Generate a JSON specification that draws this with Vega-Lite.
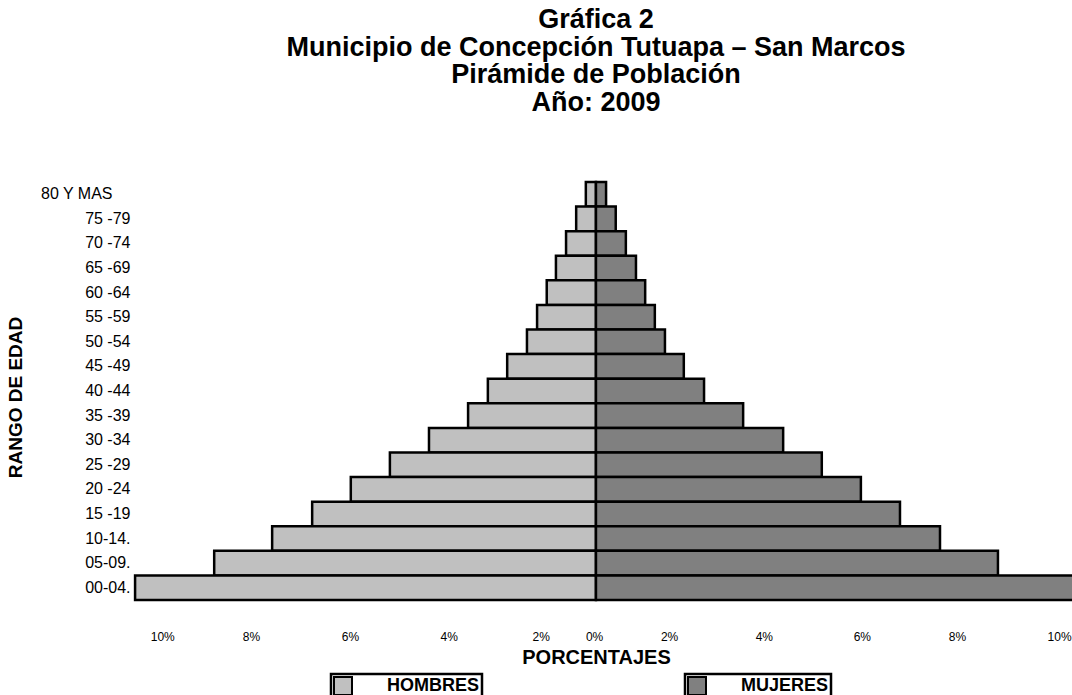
{
  "$schema": "https://vega.github.io/schema/vega-lite/v6.json",
  "width": 936,
  "height": 418,
  "autosize": {"type": "none"},
  "padding": {"left": 136, "top": 182, "right": 0, "bottom": 95},
  "background": "white",
  "title": {
    "text": ["Gráfica 2", "Municipio de Concepción Tutuapa – San Marcos", "Pirámide de Población", "Año: 2009"],
    "font": "Liberation Sans",
    "fontSize": 27,
    "fontWeight": "bold",
    "lineHeight": 27.5,
    "anchor": "middle",
    "frame": "group",
    "offset": 64,
    "dx": -8,
    "color": "black"
  },
  "data": {
    "values": [
      {"edad": "80 Y MAS", "sexo": "HOMBRES", "porcentaje": -0.22},
      {"edad": "75 -79", "sexo": "HOMBRES", "porcentaje": -0.43},
      {"edad": "70 -74", "sexo": "HOMBRES", "porcentaje": -0.65},
      {"edad": "65 -69", "sexo": "HOMBRES", "porcentaje": -0.87},
      {"edad": "60 -64", "sexo": "HOMBRES", "porcentaje": -1.07},
      {"edad": "55 -59", "sexo": "HOMBRES", "porcentaje": -1.28},
      {"edad": "50 -54", "sexo": "HOMBRES", "porcentaje": -1.5},
      {"edad": "45 -49", "sexo": "HOMBRES", "porcentaje": -1.93},
      {"edad": "40 -44", "sexo": "HOMBRES", "porcentaje": -2.35},
      {"edad": "35 -39", "sexo": "HOMBRES", "porcentaje": -2.78},
      {"edad": "30 -34", "sexo": "HOMBRES", "porcentaje": -3.63},
      {"edad": "25 -29", "sexo": "HOMBRES", "porcentaje": -4.48},
      {"edad": "20 -24", "sexo": "HOMBRES", "porcentaje": -5.33},
      {"edad": "15 -19", "sexo": "HOMBRES", "porcentaje": -6.17},
      {"edad": "10-14.", "sexo": "HOMBRES", "porcentaje": -7.04},
      {"edad": "05-09.", "sexo": "HOMBRES", "porcentaje": -8.3},
      {"edad": "00-04.", "sexo": "HOMBRES", "porcentaje": -10.02},
      {"edad": "80 Y MAS", "sexo": "MUJERES", "porcentaje": 0.22},
      {"edad": "75 -79", "sexo": "MUJERES", "porcentaje": 0.43},
      {"edad": "70 -74", "sexo": "MUJERES", "porcentaje": 0.65},
      {"edad": "65 -69", "sexo": "MUJERES", "porcentaje": 0.87},
      {"edad": "60 -64", "sexo": "MUJERES", "porcentaje": 1.07},
      {"edad": "55 -59", "sexo": "MUJERES", "porcentaje": 1.28},
      {"edad": "50 -54", "sexo": "MUJERES", "porcentaje": 1.5},
      {"edad": "45 -49", "sexo": "MUJERES", "porcentaje": 1.91},
      {"edad": "40 -44", "sexo": "MUJERES", "porcentaje": 2.35},
      {"edad": "35 -39", "sexo": "MUJERES", "porcentaje": 3.2},
      {"edad": "30 -34", "sexo": "MUJERES", "porcentaje": 4.07},
      {"edad": "25 -29", "sexo": "MUJERES", "porcentaje": 4.91},
      {"edad": "20 -24", "sexo": "MUJERES", "porcentaje": 5.76},
      {"edad": "15 -19", "sexo": "MUJERES", "porcentaje": 6.61},
      {"edad": "10-14.", "sexo": "MUJERES", "porcentaje": 7.48},
      {"edad": "05-09.", "sexo": "MUJERES", "porcentaje": 8.74},
      {"edad": "00-04.", "sexo": "MUJERES", "porcentaje": 10.6}
    ]
  },
  "encoding": {
    "y": {
      "field": "edad",
      "type": "nominal",
      "sort": ["80 Y MAS", "75 -79", "70 -74", "65 -69", "60 -64", "55 -59", "50 -54", "45 -49", "40 -44", "35 -39", "30 -34", "25 -29", "20 -24", "15 -19", "10-14.", "05-09.", "00-04."],
      "scale": {"paddingInner": 0, "paddingOuter": 0},
      "axis": {
        "title": "RANGO DE EDAD",
        "titleFont": "Liberation Sans",
        "titleFontSize": 19,
        "titleFontWeight": "bold",
        "titleColor": "black",
        "titleX": -111,
        "titleY": 215,
        "labelFont": "Liberation Sans",
        "labelFontSize": 16,
        "labelColor": "black",
        "labelPadding": {"condition": {"test": "datum.value == '80 Y MAS'", "value": 24}, "value": 6},
        "ticks": false,
        "domain": false,
        "grid": false
      }
    },
    "x": {
      "field": "porcentaje",
      "type": "quantitative",
      "scale": {"domain": [-10, 10.35], "nice": false, "zero": true},
      "axis": {
        "title": "PORCENTAJES",
        "titleFont": "Liberation Sans",
        "titleFontSize": 20,
        "titleFontWeight": "bold",
        "titleColor": "black",
        "titlePadding": 5,
        "titleX": 460,
        "labelFont": "Liberation Sans",
        "labelFontSize": 12,
        "labelColor": "black",
        "labelPadding": 31,
        "labelOverlap": false,
        "labelFlush": false,
        "ticks": false,
        "domain": false,
        "grid": false,
        "values": [-9.43, -7.5, -5.35, -3.2, -1.2, -0.04, 1.59, 3.65, 5.78, 7.85, 10.07],
        "labelExpr": "format(abs(round(datum.value / 2) * 2) / 100, '.0%')"
      }
    }
  },
  "layer": [
    {
      "transform": [{"filter": "datum.sexo === 'HOMBRES'"}],
      "mark": {"type": "bar", "stroke": "black", "strokeWidth": 2.5, "opacity": 1},
      "encoding": {
        "color": {
          "field": "sexo",
          "type": "nominal",
          "scale": {"domain": ["HOMBRES"], "range": ["#C0C0C0"]},
          "legend": {"orient": "none", "legendX": 195, "legendY": 492, "title": null}
        }
      }
    },
    {
      "transform": [{"filter": "datum.sexo === 'MUJERES'"}],
      "mark": {"type": "bar", "stroke": "black", "strokeWidth": 2.5, "opacity": 1},
      "encoding": {
        "color": {
          "field": "sexo",
          "type": "nominal",
          "scale": {"domain": ["MUJERES"], "range": ["#808080"]},
          "legend": {"orient": "none", "legendX": 549, "legendY": 492, "title": null}
        }
      }
    }
  ],
  "resolve": {"scale": {"color": "independent"}, "legend": {"color": "independent"}},
  "config": {
    "view": {"stroke": null},
    "legend": {
      "strokeColor": "black",
      "strokeWidth": 2.5,
      "padding": 2,
      "symbolType": "square",
      "symbolSize": 324,
      "symbolStrokeColor": "black",
      "symbolStrokeWidth": 2,
      "symbolOpacity": 1,
      "labelFont": "Liberation Sans",
      "labelFontSize": 18,
      "labelFontWeight": "bold",
      "labelColor": "black",
      "labelOffset": 34
    }
  }
}
